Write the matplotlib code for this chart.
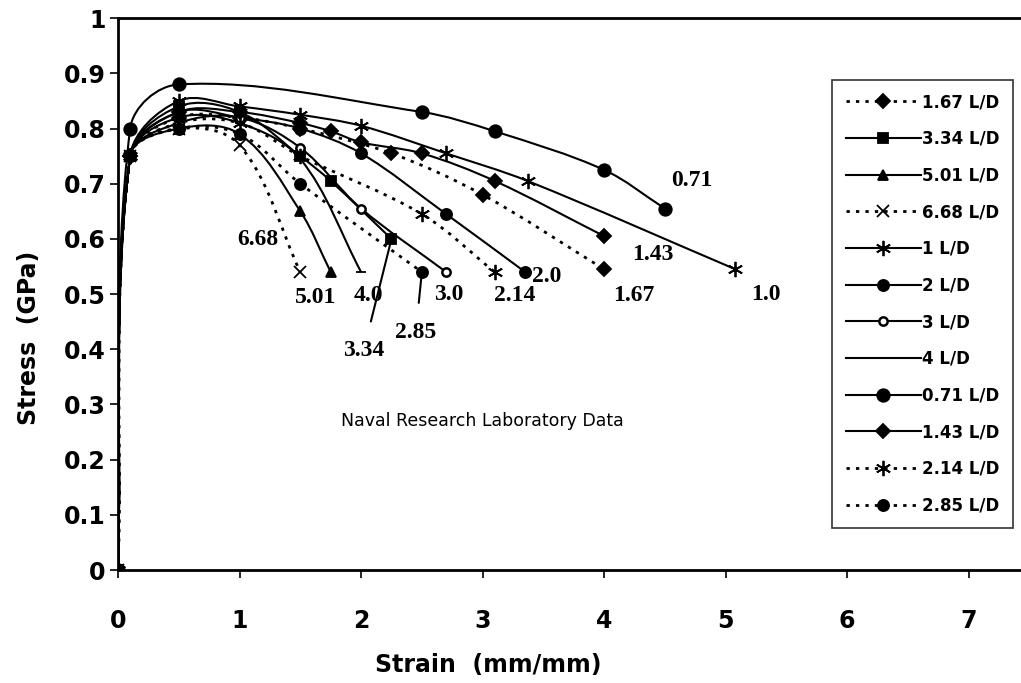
import numpy as np
import matplotlib
matplotlib.use("Agg")
import matplotlib.pyplot as plt
from matplotlib.path import Path
from matplotlib.patches import PathPatch
from matplotlib.lines import Line2D

# stress-strain curves (strain mm/mm, stress GPa)
s167_x = [0, 0.1, 0.5, 1.0, 1.5, 2.25, 3.0, 4.0]
s167_y = [0, 0.75, 0.82, 0.82, 0.80, 0.755, 0.68, 0.545]
s334_x = [0, 0.1, 0.5, 1.0, 1.5, 1.75, 2.25]
s334_y = [0, 0.75, 0.84, 0.83, 0.75, 0.705, 0.60]
s501_x = [0, 0.1, 0.5, 1.0, 1.5, 1.75]
s501_y = [0, 0.75, 0.80, 0.79, 0.65, 0.54]
s668_x = [0, 0.1, 0.5, 1.0, 1.5]
s668_y = [0, 0.75, 0.80, 0.77, 0.54]
s1_x = [0, 0.1, 0.5, 1.0, 1.5, 2.0, 2.7, 3.37, 5.08]
s1_y = [0, 0.75, 0.85, 0.84, 0.825, 0.805, 0.755, 0.705, 0.545]
s2_x = [0, 0.1, 0.5, 1.0, 1.5, 2.0, 2.7, 3.35]
s2_y = [0, 0.75, 0.83, 0.82, 0.80, 0.755, 0.645, 0.54]
s3_x = [0, 0.1, 0.5, 1.0, 1.5, 2.0, 2.7]
s3_y = [0, 0.75, 0.81, 0.82, 0.765, 0.655, 0.54]
s4_x = [0, 0.1, 0.5, 1.0, 1.5, 2.0]
s4_y = [0, 0.75, 0.82, 0.81, 0.745, 0.54]
s071_x = [0, 0.1, 0.5, 2.5, 3.1, 4.0, 4.5]
s071_y = [0, 0.80, 0.88, 0.83, 0.795, 0.725, 0.655]
s143_x = [0, 0.1, 0.5, 1.0, 1.5, 1.75, 2.0, 2.5, 3.1, 4.0]
s143_y = [0, 0.75, 0.83, 0.83, 0.81, 0.795, 0.775, 0.755, 0.705, 0.605]
s214_x = [0, 0.1, 0.5, 1.0, 1.5, 2.5, 3.1]
s214_y = [0, 0.75, 0.81, 0.81, 0.75, 0.645, 0.54]
s285_x = [0, 0.1, 0.5, 1.0, 1.5, 2.5]
s285_y = [0, 0.75, 0.80, 0.79, 0.70, 0.54]

names = ["1.67 L/D", "3.34 L/D", "5.01 L/D", "6.68 L/D", "1 L/D", "2 L/D",
         "3 L/D", "4 L/D", "0.71 L/D", "1.43 L/D", "2.14 L/D", "2.85 L/D"]

# end-of-curve labels: text, strain, stress
end_labels = [("0.71", 4.72, 0.705), ("1.43", 4.40, 0.571), ("1.67", 4.24, 0.498),
              ("1.0", 5.33, 0.50), ("2.14", 3.26, 0.498), ("2.0", 3.53, 0.532),
              ("3.0", 2.72, 0.499), ("6.68", 1.15, 0.599), ("5.01", 1.63, 0.494),
              ("4.0", 2.06, 0.497)]

dots = (0, (1.2, 2.2))
star = (6, 2, 0)
styles = [
    (s167_x, s167_y, dots, "D", 7, "k"),
    (s334_x, s334_y, "-", "s", 7, "k"),
    (s501_x, s501_y, "-", "^", 7, "k"),
    (s668_x, s668_y, dots, "x", 9, "k"),
    (s1_x, s1_y, "-", star, 11, "k"),
    (s2_x, s2_y, "-", "o", 8, "k"),
    (s3_x, s3_y, "-", "o", 6, "w"),
    (s4_x, s4_y, "-", "_", 7, "k"),
    (s071_x, s071_y, "-", "o", 9, "k"),
    (s143_x, s143_y, "-", "D", 7, "k"),
    (s214_x, s214_y, dots, star, 11, "k"),
    (s285_x, s285_y, dots, "o", 8, "k"),
]

SX, SY = 121.5, 552.0   # rough pixel scale, only used to shape the smoothing


def smooth(xs, ys):
    # bezier path through the points (chord-length arms, no big overshoot)
    p = np.column_stack([np.asarray(xs) * SX, np.asarray(ys) * SY]).astype(float)
    n = len(p)
    dirs = []
    for i in range(n):
        a = p[max(i - 1, 0)]
        b = p[min(i + 1, n - 1)]
        d = b - a
        dirs.append(d / np.hypot(*d))
    verts = [p[0]]
    codes = [Path.MOVETO]
    for i in range(n - 1):
        L = np.hypot(*(p[i + 1] - p[i])) / 3
        verts += [p[i] + dirs[i] * L, p[i + 1] - dirs[i + 1] * L, p[i + 1]]
        codes += [Path.CURVE4] * 3
    verts = np.array(verts) / [SX, SY]
    return Path(verts, codes)


fig = plt.figure(figsize=(10.21, 6.83), dpi=100)
ax = fig.add_axes([0.1156, 0.1654, 0.8844, 0.808])

handles = []
for (xs, ys, ls, mk, ms, fc), nm in zip(styles, names):
    lw = 2.0 if ls is dots else 1.5
    mew = 1.8 if fc == "w" else 1.3
    ax.add_patch(PathPatch(smooth(xs, ys), fill=False, lw=lw, ls=ls, ec="k"))
    ax.plot(xs, ys, ls="none", marker=mk, ms=ms, mfc=fc, mec="k", mew=mew)
    handles.append(Line2D([], [], color="k", lw=lw, ls=ls, marker=mk, ms=ms,
                          mfc=fc, mec="k", mew=mew))

for t, x, y in end_labels:
    ax.text(x, y, t, ha="center", va="center", fontsize=17, fontweight="bold",
            family="Liberation Serif")

ax.annotate("3.34", xy=(2.25, 0.60), xytext=(2.02, 0.397), ha="center", va="center",
            fontsize=17, fontweight="bold", family="Liberation Serif",
            arrowprops=dict(arrowstyle="-", color="k", lw=1.5, shrinkA=12, shrinkB=0))
ax.annotate("2.85", xy=(2.5, 0.54), xytext=(2.45, 0.43), ha="center", va="center",
            fontsize=17, fontweight="bold", family="Liberation Serif",
            arrowprops=dict(arrowstyle="-", color="k", lw=1.5, shrinkA=12, shrinkB=0))

ax.text(3.0, 0.27, "Naval Research Laboratory Data", ha="center", va="center",
        fontsize=12.5)

ax.set_xlim(0, 7.43)
ax.set_ylim(0, 1)
ax.set_xticks(range(8))
ax.set_yticks(np.arange(0, 1.01, 0.1))
ax.set_yticklabels(["0", "0.1", "0.2", "0.3", "0.4", "0.5", "0.6", "0.7", "0.8", "0.9", "1"])
ax.tick_params(axis="y", direction="out", length=6, width=1.2, pad=3, labelsize=17)
ax.tick_params(axis="x", direction="out", length=6, width=1.2, pad=22, labelsize=17)
for lab in ax.get_xticklabels() + ax.get_yticklabels():
    lab.set_fontweight("bold")
ax.spines["right"].set_visible(False)
for s in ["left", "bottom", "top"]:
    ax.spines[s].set_linewidth(2)

ax.set_ylabel("Stress  (GPa)", fontsize=17, fontweight="bold")
ax.yaxis.set_label_coords(-0.085, 0.42)
ax.set_xlabel("Strain  (mm/mm)", fontsize=17, fontweight="bold")
ax.xaxis.set_label_coords(0.41, -0.15)

leg = ax.legend(handles, names, loc="upper left", bbox_to_anchor=(0.791, 0.888),
                prop={"weight": "bold", "size": 12}, handlelength=4.5,
                handletextpad=0.1, labelspacing=1.12, borderpad=0.8,
                frameon=True, fancybox=False, borderaxespad=0)
leg.get_frame().set_edgecolor("k")
leg.get_frame().set_linewidth(1.2)

fig.savefig("out.png", dpi=100)
